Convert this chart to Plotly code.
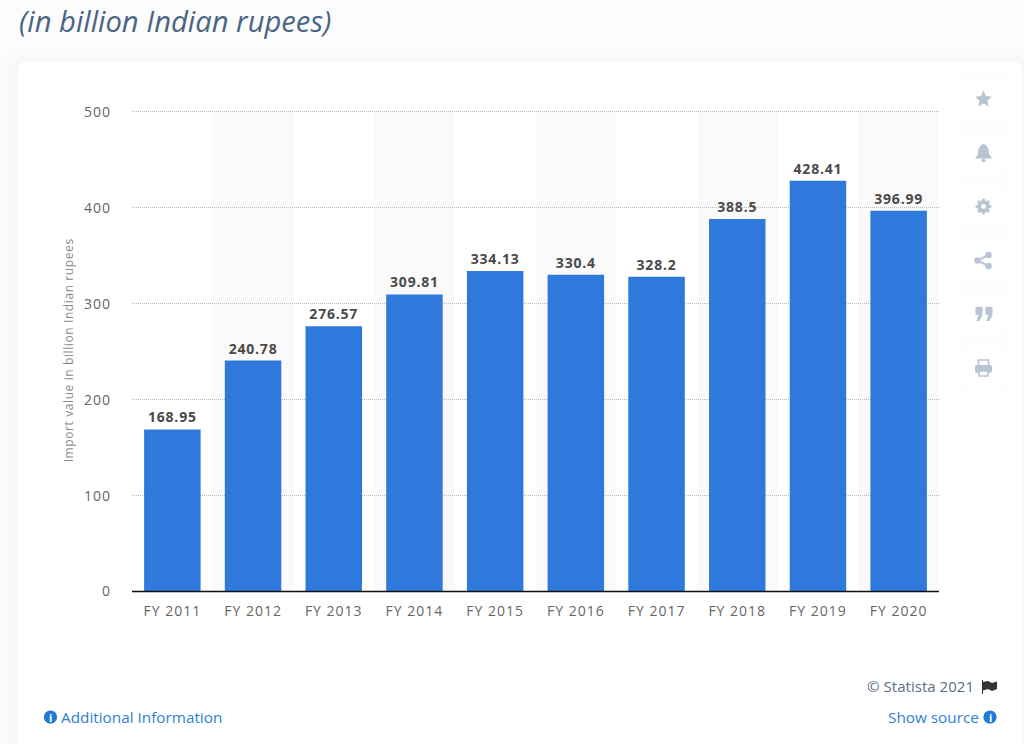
import plotly.graph_objects as go

years = ["FY 2011", "FY 2012", "FY 2013", "FY 2014", "FY 2015",
         "FY 2016", "FY 2017", "FY 2018", "FY 2019", "FY 2020"]
import_value = [168.95, 240.78, 276.57, 309.81, 334.13, 330.4, 328.2, 388.5, 428.41, 396.99]
y_ticks = [0, 100, 200, 300, 400, 500]

W = 1024
H = 744
FONT = "Open Sans"
BLUE = "#2e79db"
LINK = "#2f80d6"
ICON = "#b9c4d2"


def fx(x):
    return x / W


def fy(y):
    return 1 - y / H


def path(points, close=True):
    s = "M " + " L ".join(f"{fx(x):.5f},{fy(y):.5f}" for x, y in points)
    return s + (" Z" if close else "")


def round_rect(x0, y0, x1, y1, r):
    # rounded box in page pixels, corners as quadratic curves
    return (f"M {fx(x0+r):.5f},{fy(y0):.5f} L {fx(x1-r):.5f},{fy(y0):.5f} "
            f"Q {fx(x1):.5f},{fy(y0):.5f} {fx(x1):.5f},{fy(y0+r):.5f} "
            f"L {fx(x1):.5f},{fy(y1-r):.5f} "
            f"Q {fx(x1):.5f},{fy(y1):.5f} {fx(x1-r):.5f},{fy(y1):.5f} "
            f"L {fx(x0+r):.5f},{fy(y1):.5f} "
            f"Q {fx(x0):.5f},{fy(y1):.5f} {fx(x0):.5f},{fy(y1-r):.5f} "
            f"L {fx(x0):.5f},{fy(y0+r):.5f} "
            f"Q {fx(x0):.5f},{fy(y0):.5f} {fx(x0+r):.5f},{fy(y0):.5f} Z")


def box(d, fill, layer="below"):
    return dict(type="path", path=d, xref="paper", yref="paper", fillcolor=fill,
                line_width=0, layer=layer)


def circle(cx, cy, r, fill):
    return dict(type="circle", xref="paper", yref="paper", x0=fx(cx - r), x1=fx(cx + r),
                y0=fy(cy + r), y1=fy(cy - r), fillcolor=fill, line_width=0, layer="above")


def soft_box(x0, y0, x1, y1, r, spread, alpha):
    # fake box-shadow, a few see-through boxes under the white one
    out = []
    for i in range(spread, 0, -3):
        out.append(box(round_rect(x0 - i, y0 - i, x1 + i, y1 + i, r + i), f"rgba(120,135,165,{alpha})"))
    out.append(box(round_rect(x0, y0, x1, y1, r), "#ffffff"))
    return out


fig = go.Figure()
fig.add_trace(go.Bar(x=list(range(len(years))), y=import_value, text=import_value,
                     textposition="outside", cliponaxis=False, width=0.7,
                     marker=dict(color=BLUE, line_width=0),
                     textfont=dict(family=FONT, size=14, color="#4a4a4a", weight="bold")))

shapes = []
shapes += soft_box(18, 62, 1022, 800, 6, 15, 0.008)

# side buttons
btn_tops = [78, 132, 185, 239, 292, 346]
for top in btn_tops:
    shapes += soft_box(962, top, 1005, top + 43, 5, 6, 0.007)

# alternating column bands
for i in range(1, len(years), 2):
    shapes.append(dict(type="rect", xref="x", yref="y", x0=i - 0.5, x1=i + 0.5, y0=0, y1=500,
                       fillcolor="#fafafa", line_width=0, layer="below"))

# baseline on paper coords, on the y axis it gets clipped to half its width
shapes.append(dict(type="line", xref="paper", yref="paper", x0=fx(132), x1=fx(939), y0=fy(591.5), y1=fy(591.5),
                   line=dict(color="#111111", width=1.5), layer="above"))


def icon(d):
    return dict(type="path", path=d, xref="paper", yref="paper", fillcolor=ICON, line_width=0, layer="above")


# star
star = [(983.5, 90.5), (986, 96), (992, 96.7), (987.5, 100.7), (988.8, 106.5), (983.5, 103.5),
        (978.2, 106.5), (979.5, 100.7), (975, 96.7), (981, 96)]
shapes.append(icon(path(star)))
# bell
bell = [(983.5, 144), (986, 145), (988.5, 149), (989, 154), (992, 158.5), (975, 158.5),
        (978, 154), (978.5, 149), (981, 145)]
shapes.append(icon(path(bell)))
shapes.append(circle(983.5, 160.5, 2, ICON))
# gear
shapes.append(circle(983.5, 206.5, 6.2, ICON))
for dx, dy in [(0, -6.5), (0, 6.5), (-6.5, 0), (6.5, 0), (-4.6, -4.6), (4.6, 4.6), (-4.6, 4.6), (4.6, -4.6)]:
    shapes.append(circle(983.5 + dx, 206.5 + dy, 1.6, ICON))
shapes.append(circle(983.5, 206.5, 2.4, "#ffffff"))
# share
shapes.append(circle(977.5, 260.5, 3.3, ICON))
shapes.append(circle(988.5, 255, 3.3, ICON))
shapes.append(circle(988.5, 266, 3.3, ICON))
shapes.append(dict(type="path", path=path([(988.5, 255), (977.5, 260.5), (988.5, 266)], close=False),
                   xref="paper", yref="paper", line=dict(color=ICON, width=2), layer="above"))
# quotes
for qx in (975.5, 985.5):
    quote = [(qx, 307), (qx + 7, 307), (qx + 7, 315), (qx + 4, 321), (qx + 1, 321), (qx + 3, 315), (qx, 315)]
    shapes.append(icon(path(quote)))
# printer
shapes.append(icon(round_rect(975, 365, 992, 373, 2)))
shapes.append(dict(type="path", path=path([(978.5, 365), (978.5, 360), (988.5, 360), (988.5, 365)], close=False),
                   xref="paper", yref="paper", line=dict(color=ICON, width=1.6), layer="above"))
shapes.append(dict(type="path", path=path([(979, 371), (988, 371), (988, 376), (979, 376)]),
                   xref="paper", yref="paper", fillcolor="#ffffff", line=dict(color=ICON, width=1.6), layer="above"))

# info icons and flag
shapes.append(circle(50.5, 717, 6.6, "#1f7ad6"))
shapes.append(circle(990, 717, 6.6, "#1f7ad6"))
flag = [(983, 682), (988, 681), (992, 683), (997, 681.5), (997, 689), (992, 691), (988, 689), (983, 690.5)]
shapes.append(dict(type="path", path=path(flag), xref="paper", yref="paper", fillcolor="#333333",
                   line_width=0, layer="above"))
shapes.append(dict(type="line", xref="paper", yref="paper", x0=fx(982.5), x1=fx(982.5), y0=fy(680), y1=fy(694),
                   line=dict(color="#333333", width=1), layer="above"))

annotations = [
    dict(text="<i>(in billion Indian rupees)</i>", x=fx(17), y=fy(20.5), xanchor="left", yanchor="middle",
         font=dict(family=FONT, size=29.2, color="#4a6583")),
    dict(text="© Statista 2021", x=fx(976), y=fy(686), xanchor="right", yanchor="middle",
         font=dict(family=FONT, size=15.1, color="#5d6e82")),
    dict(text="Additional Information", x=fx(59), y=fy(717), xanchor="left", yanchor="middle",
         font=dict(family=FONT, size=15.3, color=LINK)),
    dict(text="Show source", x=fx(981), y=fy(717), xanchor="right", yanchor="middle",
         font=dict(family=FONT, size=15.3, color=LINK)),
    dict(text="<b>i</b>", x=fx(50.5), y=fy(717), xanchor="center", yanchor="middle",
         font=dict(family=FONT, size=11, color="#ffffff")),
    dict(text="<b>i</b>", x=fx(990), y=fy(717), xanchor="center", yanchor="middle",
         font=dict(family=FONT, size=11, color="#ffffff")),
]
for a in annotations:
    a.update(xref="paper", yref="paper", showarrow=False)

# range runs a bit past 500, plotly drops a gridline sitting right on the end of the range
fig.update_layout(
    width=W, height=H, margin=dict(l=0, r=0, t=0, b=0), autosize=False,
    paper_bgcolor="#fcfcfd", plot_bgcolor="rgba(0,0,0,0)", showlegend=False,
    font=dict(family=FONT), shapes=shapes, annotations=annotations,
    xaxis=dict(domain=[fx(132), fx(939)], range=[-0.5, 9.5], tickmode="array", automargin=False,
               tickvals=list(range(len(years))), ticktext=years, showgrid=False,
               showline=False, ticks="", zeroline=False,
               ticklabelstandoff=9, tickfont=dict(family=FONT, size=14, color="#666666")),
    yaxis=dict(domain=[fy(591.5), fy(109.1)], range=[0, 503], tickvals=y_ticks, griddash="1px,1px",
               gridcolor="#b8b8b8", gridwidth=1, zeroline=False, ticks="", ticklabelstandoff=20,
               automargin=False, tickfont=dict(family=FONT, size=14, color="#666666"),
               title=dict(text="Import value in billion Indian rupees", standoff=10,
                          font=dict(family=FONT, size=12, color="#8a8a8a"))),
)

# plotly has no letter spacing setting, the reference text is spaced out a little
css = """
document.body.style.margin = '0';
var st = document.createElement('style');
st.textContent = '.xtick text, .ytick text {letter-spacing: 1px} .bartext {letter-spacing: .8px} .ytitle {letter-spacing: .6px}';
document.head.appendChild(st);
"""
fig.write_html("out.html", config=dict(displayModeBar=False), post_script=css)
